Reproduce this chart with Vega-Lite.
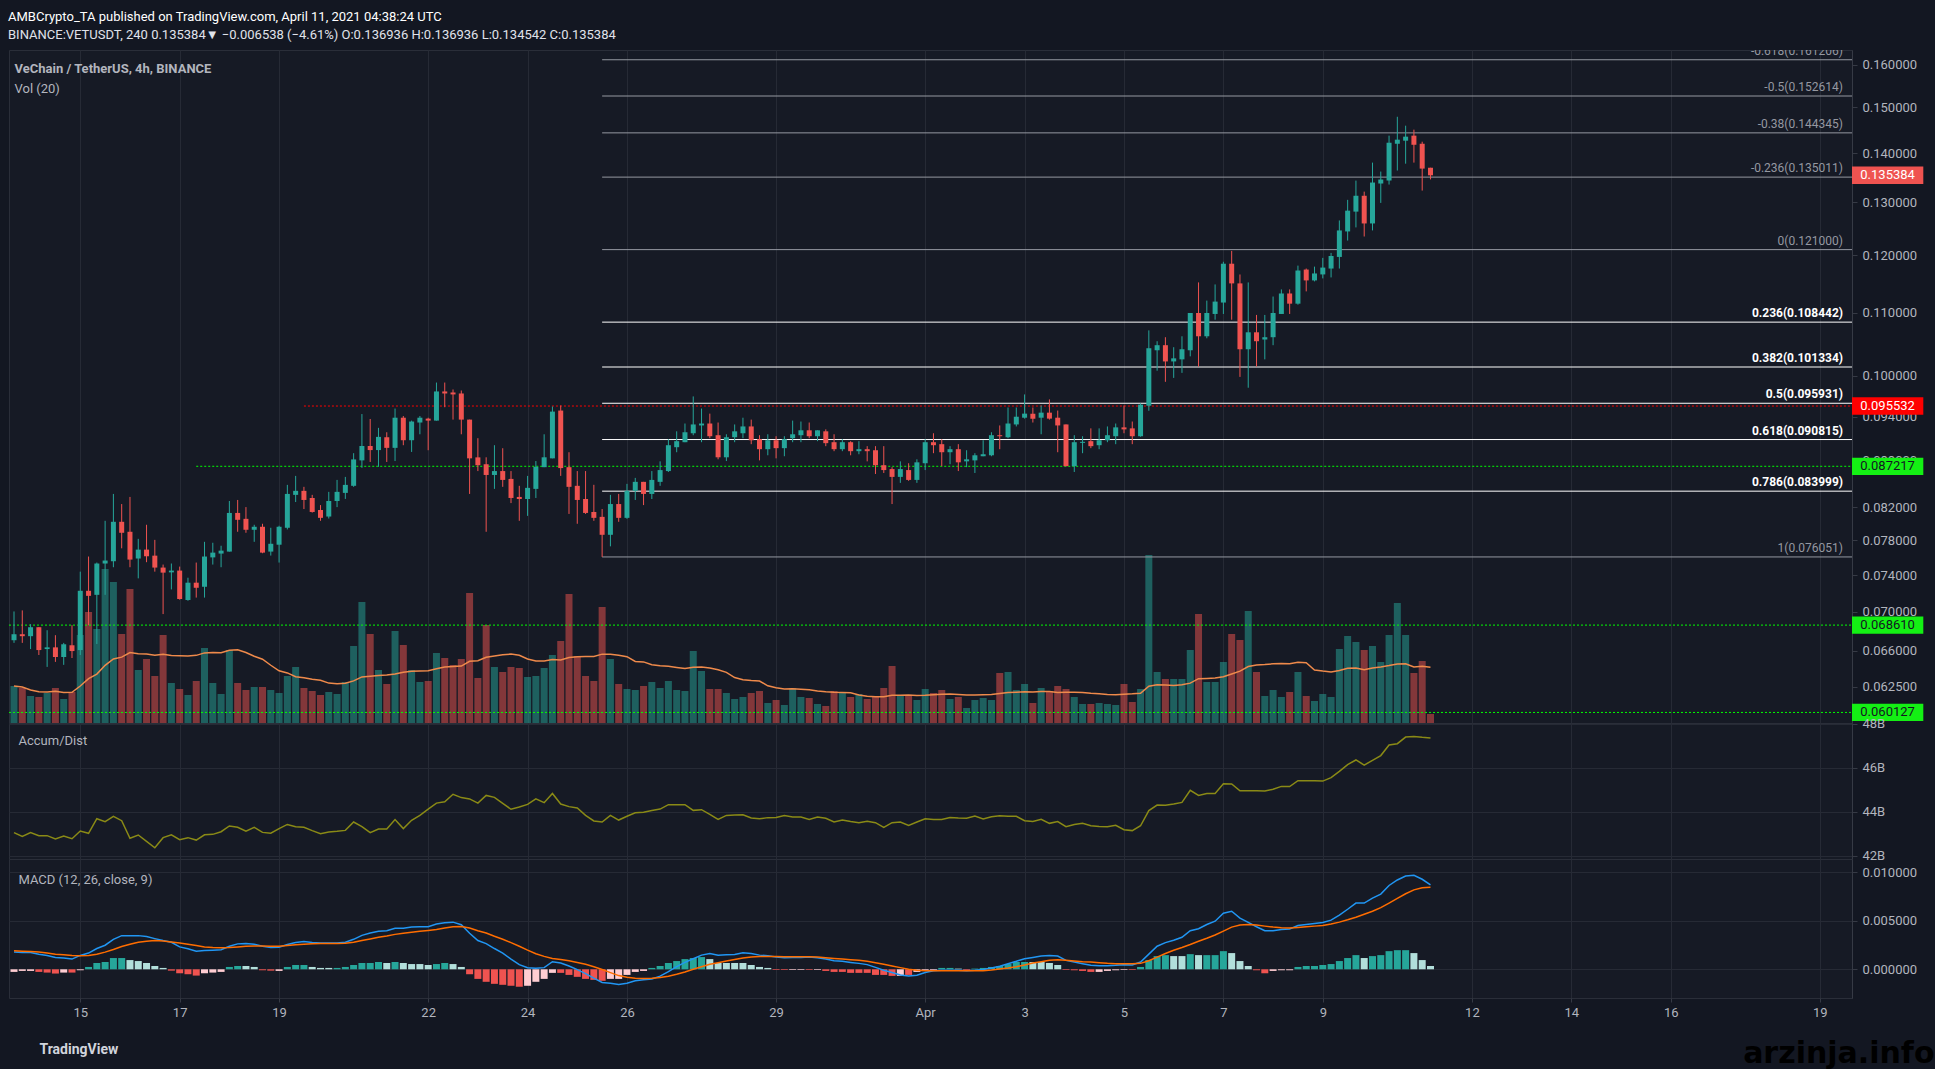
{
  "$schema": "https://vega.github.io/schema/vega-lite/v6.json",
  "background": "#131722",
  "padding": {"left": 8, "top": 10, "right": 0, "bottom": 0},
  "bounds": "flush",
  "spacing": 0,
  "title": {
    "text": "AMBCrypto_TA published on TradingView.com, April 11, 2021 04:38:24 UTC",
    "subtitle": "BINANCE:VETUSDT, 240  0.135384▼ −0.006538 (−4.61%)  O:0.136936  H:0.136936  L:0.134542  C:0.135384",
    "anchor": "start",
    "font": "Liberation Sans Narrow, Roboto",
    "fontSize": 13,
    "fontWeight": "normal",
    "color": "#ffffff",
    "subtitleFont": "Liberation Sans Narrow, Roboto",
    "subtitleFontSize": 13,
    "subtitleColor": "#e0e3eb",
    "subtitlePadding": 5,
    "offset": 8
  },
  "datasets": {
    "candles": [
      {"t":"2021-03-13T16:00Z","o":0.06706,"h":0.07004,"l":0.06679,"c":0.06767,"v":37,"ad":43.05,"m":0.00177,"s":0.0019,"hv":-0.00027,"hd":"rise"},
      {"t":"2021-03-13T20:00Z","o":0.06767,"h":0.07015,"l":0.06679,"c":0.06747,"v":35,"ad":42.88,"m":0.00173,"s":0.00187,"hv":-0.00017,"hd":"rise"},
      {"t":"2021-03-14T00:00Z","o":0.06747,"h":0.0687,"l":0.06617,"c":0.06839,"v":27,"ad":43.05,"m":0.00173,"s":0.00184,"hv":-0.00017,"hd":"rise"},
      {"t":"2021-03-14T04:00Z","o":0.06839,"h":0.0684,"l":0.06558,"c":0.06607,"v":26,"ad":42.91,"m":0.00156,"s":0.00177,"hv":-0.00027,"hd":"fall"},
      {"t":"2021-03-14T08:00Z","o":0.06617,"h":0.06808,"l":0.06441,"c":0.06634,"v":30,"ad":42.91,"m":0.00143,"s":0.00167,"hv":-0.00034,"hd":"fall"},
      {"t":"2021-03-14T12:00Z","o":0.06634,"h":0.06757,"l":0.0649,"c":0.06538,"v":35,"ad":42.76,"m":0.00122,"s":0.00156,"hv":-0.00044,"hd":"fall"},
      {"t":"2021-03-14T16:00Z","o":0.06538,"h":0.06679,"l":0.06461,"c":0.06665,"v":24,"ad":42.89,"m":0.00116,"s":0.0015,"hv":-0.00034,"hd":"rise"},
      {"t":"2021-03-14T20:00Z","o":0.06655,"h":0.0686,"l":0.06528,"c":0.06597,"v":31,"ad":42.77,"m":0.00105,"s":0.00143,"hv":-0.00034,"hd":"fall"},
      {"t":"2021-03-15T00:00Z","o":0.06607,"h":0.07438,"l":0.06558,"c":0.07226,"v":88,"ad":43.12,"m":0.00143,"s":0.00139,"hv":-0.0001,"hd":"rise"},
      {"t":"2021-03-15T04:00Z","o":0.07226,"h":0.0761,"l":0.0686,"c":0.07171,"v":111,"ad":43.02,"m":0.00167,"s":0.00143,"hv":0.00024,"hd":"rise"},
      {"t":"2021-03-15T08:00Z","o":0.07182,"h":0.07541,"l":0.06668,"c":0.0753,"v":94,"ad":43.68,"m":0.00214,"s":0.00156,"hv":0.00065,"hd":"rise"},
      {"t":"2021-03-15T12:00Z","o":0.0753,"h":0.08032,"l":0.07182,"c":0.07564,"v":154,"ad":43.55,"m":0.00248,"s":0.00177,"hv":0.00075,"hd":"rise"},
      {"t":"2021-03-15T16:00Z","o":0.07556,"h":0.08365,"l":0.07488,"c":0.0802,"v":141,"ad":43.79,"m":0.00309,"s":0.00204,"hv":0.00116,"hd":"rise"},
      {"t":"2021-03-15T20:00Z","o":0.0802,"h":0.08238,"l":0.07705,"c":0.07888,"v":89,"ad":43.59,"m":0.00347,"s":0.00235,"hv":0.00116,"hd":"rise"},
      {"t":"2021-03-16T00:00Z","o":0.079,"h":0.08327,"l":0.07488,"c":0.07575,"v":134,"ad":42.79,"m":0.00347,"s":0.00258,"hv":0.00095,"hd":"fall"},
      {"t":"2021-03-16T04:00Z","o":0.07587,"h":0.07816,"l":0.07363,"c":0.0769,"v":53,"ad":42.94,"m":0.00347,"s":0.00279,"hv":0.00085,"hd":"fall"},
      {"t":"2021-03-16T08:00Z","o":0.0769,"h":0.07984,"l":0.07545,"c":0.07613,"v":64,"ad":42.65,"m":0.00337,"s":0.00289,"hv":0.00065,"hd":"fall"},
      {"t":"2021-03-16T12:00Z","o":0.0762,"h":0.07804,"l":0.07438,"c":0.07484,"v":47,"ad":42.36,"m":0.00316,"s":0.00296,"hv":0.00034,"hd":"fall"},
      {"t":"2021-03-16T16:00Z","o":0.07484,"h":0.07518,"l":0.06976,"c":0.07427,"v":88,"ad":42.82,"m":0.00296,"s":0.00292,"hv":0.00014,"hd":"fall"},
      {"t":"2021-03-16T20:00Z","o":0.0743,"h":0.0753,"l":0.07241,"c":0.0745,"v":40,"ad":42.95,"m":0.00279,"s":0.00282,"hv":-0.00014,"hd":"fall"},
      {"t":"2021-03-17T00:00Z","o":0.0745,"h":0.07495,"l":0.0713,"c":0.07137,"v":34,"ad":42.73,"m":0.00231,"s":0.00272,"hv":-0.00041,"hd":"fall"},
      {"t":"2021-03-17T04:00Z","o":0.07126,"h":0.0737,"l":0.07118,"c":0.07315,"v":28,"ad":42.82,"m":0.00211,"s":0.00258,"hv":-0.00051,"hd":"fall"},
      {"t":"2021-03-17T08:00Z","o":0.07315,"h":0.07541,"l":0.07152,"c":0.07259,"v":42,"ad":42.71,"m":0.00187,"s":0.00245,"hv":-0.00065,"hd":"fall"},
      {"t":"2021-03-17T12:00Z","o":0.0727,"h":0.07781,"l":0.07152,"c":0.0761,"v":75,"ad":42.95,"m":0.00194,"s":0.00231,"hv":-0.00041,"hd":"rise"},
      {"t":"2021-03-17T16:00Z","o":0.076,"h":0.0777,"l":0.07518,"c":0.07655,"v":40,"ad":42.97,"m":0.00197,"s":0.00224,"hv":-0.00034,"hd":"rise"},
      {"t":"2021-03-17T20:00Z","o":0.07644,"h":0.07735,"l":0.07488,"c":0.07678,"v":29,"ad":43.09,"m":0.00201,"s":0.00221,"hv":-0.00027,"hd":"rise"},
      {"t":"2021-03-18T00:00Z","o":0.07667,"h":0.08276,"l":0.07667,"c":0.08128,"v":73,"ad":43.35,"m":0.00238,"s":0.00224,"hv":0.00024,"hd":"rise"},
      {"t":"2021-03-18T04:00Z","o":0.08128,"h":0.08289,"l":0.079,"c":0.08044,"v":40,"ad":43.29,"m":0.00262,"s":0.00231,"hv":0.00034,"hd":"rise"},
      {"t":"2021-03-18T08:00Z","o":0.08056,"h":0.082,"l":0.07888,"c":0.07924,"v":33,"ad":43.11,"m":0.00265,"s":0.00238,"hv":0.00034,"hd":"fall"},
      {"t":"2021-03-18T12:00Z","o":0.07924,"h":0.07984,"l":0.07781,"c":0.0796,"v":36,"ad":43.29,"m":0.00258,"s":0.00241,"hv":0.00024,"hd":"fall"},
      {"t":"2021-03-18T16:00Z","o":0.0796,"h":0.07996,"l":0.07648,"c":0.07655,"v":36,"ad":43.06,"m":0.00238,"s":0.00241,"hv":-0.0001,"hd":"fall"},
      {"t":"2021-03-18T20:00Z","o":0.07667,"h":0.07948,"l":0.07621,"c":0.07758,"v":33,"ad":43.02,"m":0.00224,"s":0.00238,"hv":-0.00014,"hd":"fall"},
      {"t":"2021-03-19T00:00Z","o":0.07747,"h":0.07972,"l":0.07541,"c":0.0796,"v":30,"ad":43.23,"m":0.00228,"s":0.00238,"hv":-0.00017,"hd":"rise"},
      {"t":"2021-03-19T04:00Z","o":0.07948,"h":0.0848,"l":0.07928,"c":0.08365,"v":47,"ad":43.42,"m":0.00255,"s":0.00245,"hv":0.00024,"hd":"rise"},
      {"t":"2021-03-19T08:00Z","o":0.08353,"h":0.08596,"l":0.08263,"c":0.08404,"v":56,"ad":43.32,"m":0.00275,"s":0.00252,"hv":0.00044,"hd":"rise"},
      {"t":"2021-03-19T12:00Z","o":0.08404,"h":0.08455,"l":0.08176,"c":0.08289,"v":35,"ad":43.29,"m":0.00286,"s":0.00258,"hv":0.00044,"hd":"rise"},
      {"t":"2021-03-19T16:00Z","o":0.08314,"h":0.08353,"l":0.08132,"c":0.0814,"v":32,"ad":43.14,"m":0.00275,"s":0.00262,"hv":0.00024,"hd":"fall"},
      {"t":"2021-03-19T20:00Z","o":0.08164,"h":0.08225,"l":0.08032,"c":0.08068,"v":28,"ad":43.0,"m":0.00272,"s":0.00265,"hv":0.00014,"hd":"fall"},
      {"t":"2021-03-20T00:00Z","o":0.08084,"h":0.08391,"l":0.0806,"c":0.08276,"v":31,"ad":43.08,"m":0.00272,"s":0.00265,"hv":0.00014,"hd":"fall"},
      {"t":"2021-03-20T04:00Z","o":0.08276,"h":0.08544,"l":0.082,"c":0.08391,"v":29,"ad":43.11,"m":0.00272,"s":0.00265,"hv":0.00014,"hd":"rise"},
      {"t":"2021-03-20T08:00Z","o":0.08378,"h":0.08583,"l":0.08302,"c":0.0848,"v":41,"ad":43.15,"m":0.00279,"s":0.00269,"hv":0.00024,"hd":"rise"},
      {"t":"2021-03-20T12:00Z","o":0.08468,"h":0.08896,"l":0.08455,"c":0.08813,"v":77,"ad":43.53,"m":0.00309,"s":0.00279,"hv":0.00044,"hd":"rise"},
      {"t":"2021-03-20T16:00Z","o":0.088,"h":0.09438,"l":0.08702,"c":0.08993,"v":121,"ad":43.32,"m":0.0035,"s":0.00296,"hv":0.00065,"hd":"rise"},
      {"t":"2021-03-20T20:00Z","o":0.08993,"h":0.09368,"l":0.08779,"c":0.08938,"v":89,"ad":43.05,"m":0.00374,"s":0.00313,"hv":0.00065,"hd":"rise"},
      {"t":"2021-03-21T00:00Z","o":0.08938,"h":0.09243,"l":0.08715,"c":0.09118,"v":53,"ad":43.21,"m":0.00391,"s":0.0033,"hv":0.00075,"hd":"rise"},
      {"t":"2021-03-21T04:00Z","o":0.09113,"h":0.09182,"l":0.08779,"c":0.08968,"v":39,"ad":43.21,"m":0.00398,"s":0.00343,"hv":0.00065,"hd":"fall"},
      {"t":"2021-03-21T08:00Z","o":0.08968,"h":0.09517,"l":0.08791,"c":0.09386,"v":92,"ad":43.64,"m":0.00422,"s":0.0036,"hv":0.00075,"hd":"rise"},
      {"t":"2021-03-21T12:00Z","o":0.09386,"h":0.0941,"l":0.09004,"c":0.09072,"v":78,"ad":43.23,"m":0.00422,"s":0.00371,"hv":0.00065,"hd":"fall"},
      {"t":"2021-03-21T16:00Z","o":0.09072,"h":0.09345,"l":0.08913,"c":0.09332,"v":53,"ad":43.61,"m":0.00435,"s":0.00381,"hv":0.00054,"hd":"fall"},
      {"t":"2021-03-21T20:00Z","o":0.09318,"h":0.0941,"l":0.09154,"c":0.09386,"v":41,"ad":43.83,"m":0.00439,"s":0.00391,"hv":0.00054,"hd":"fall"},
      {"t":"2021-03-22T00:00Z","o":0.09373,"h":0.09386,"l":0.08936,"c":0.09345,"v":42,"ad":44.12,"m":0.00439,"s":0.00401,"hv":0.00044,"hd":"fall"},
      {"t":"2021-03-22T04:00Z","o":0.09345,"h":0.09898,"l":0.09345,"c":0.09766,"v":70,"ad":44.39,"m":0.00466,"s":0.00411,"hv":0.00054,"hd":"rise"},
      {"t":"2021-03-22T08:00Z","o":0.09766,"h":0.09898,"l":0.09536,"c":0.09736,"v":65,"ad":44.45,"m":0.00479,"s":0.00425,"hv":0.00065,"hd":"rise"},
      {"t":"2021-03-22T12:00Z","o":0.09751,"h":0.09795,"l":0.09359,"c":0.09722,"v":58,"ad":44.79,"m":0.00486,"s":0.00439,"hv":0.00054,"hd":"fall"},
      {"t":"2021-03-22T16:00Z","o":0.09736,"h":0.0978,"l":0.09154,"c":0.09359,"v":64,"ad":44.64,"m":0.00459,"s":0.00442,"hv":0.00024,"hd":"fall"},
      {"t":"2021-03-22T20:00Z","o":0.09359,"h":0.09359,"l":0.08365,"c":0.08827,"v":130,"ad":44.58,"m":0.00371,"s":0.00425,"hv":-0.00051,"hd":"fall"},
      {"t":"2021-03-23T00:00Z","o":0.0884,"h":0.091,"l":0.08659,"c":0.08736,"v":45,"ad":44.39,"m":0.00296,"s":0.00398,"hv":-0.00099,"hd":"fall"},
      {"t":"2021-03-23T04:00Z","o":0.08749,"h":0.08841,"l":0.079,"c":0.08608,"v":98,"ad":44.74,"m":0.00265,"s":0.00374,"hv":-0.00129,"hd":"fall"},
      {"t":"2021-03-23T08:00Z","o":0.08608,"h":0.09004,"l":0.08429,"c":0.08659,"v":56,"ad":44.65,"m":0.00214,"s":0.0034,"hv":-0.0015,"hd":"fall"},
      {"t":"2021-03-23T12:00Z","o":0.08659,"h":0.08963,"l":0.08455,"c":0.08544,"v":51,"ad":44.38,"m":0.00167,"s":0.00309,"hv":-0.0016,"hd":"fall"},
      {"t":"2021-03-23T16:00Z","o":0.08557,"h":0.08659,"l":0.0825,"c":0.08314,"v":56,"ad":44.11,"m":0.00105,"s":0.00275,"hv":-0.0017,"hd":"fall"},
      {"t":"2021-03-23T20:00Z","o":0.08327,"h":0.08468,"l":0.08032,"c":0.08301,"v":55,"ad":44.21,"m":0.00048,"s":0.00238,"hv":-0.0018,"hd":"fall"},
      {"t":"2021-03-24T00:00Z","o":0.08301,"h":0.08596,"l":0.08092,"c":0.08442,"v":46,"ad":44.33,"m":0.00017,"s":0.00197,"hv":-0.0017,"hd":"rise"},
      {"t":"2021-03-24T04:00Z","o":0.08429,"h":0.08791,"l":0.08314,"c":0.08715,"v":47,"ad":44.58,"m":0.0001,"s":0.0016,"hv":-0.00129,"hd":"rise"},
      {"t":"2021-03-24T08:00Z","o":0.0871,"h":0.09154,"l":0.0871,"c":0.08841,"v":55,"ad":44.41,"m":0.00017,"s":0.00133,"hv":-0.00099,"hd":"rise"},
      {"t":"2021-03-24T12:00Z","o":0.08827,"h":0.09546,"l":0.08827,"c":0.09473,"v":68,"ad":44.83,"m":0.00078,"s":0.00112,"hv":-0.00037,"hd":"rise"},
      {"t":"2021-03-24T16:00Z","o":0.09488,"h":0.09561,"l":0.08596,"c":0.08698,"v":82,"ad":44.35,"m":0.00065,"s":0.00102,"hv":-0.00037,"hd":"fall"},
      {"t":"2021-03-24T20:00Z","o":0.0871,"h":0.08909,"l":0.08116,"c":0.08455,"v":129,"ad":44.23,"m":0.00034,"s":0.00088,"hv":-0.00058,"hd":"fall"},
      {"t":"2021-03-25T00:00Z","o":0.08468,"h":0.08659,"l":0.07996,"c":0.08289,"v":67,"ad":44.17,"m":-0.00003,"s":0.00071,"hv":-0.00078,"hd":"fall"},
      {"t":"2021-03-25T04:00Z","o":0.08301,"h":0.08659,"l":0.08116,"c":0.08128,"v":47,"ad":43.83,"m":-0.00044,"s":0.00051,"hv":-0.00099,"hd":"fall"},
      {"t":"2021-03-25T08:00Z","o":0.0814,"h":0.08481,"l":0.08032,"c":0.08068,"v":42,"ad":43.58,"m":-0.00092,"s":0.00027,"hv":-0.00109,"hd":"fall"},
      {"t":"2021-03-25T12:00Z","o":0.0808,"h":0.08176,"l":0.07605,"c":0.07864,"v":116,"ad":43.53,"m":-0.00136,"s":-0.00003,"hv":-0.00119,"hd":"fall"},
      {"t":"2021-03-25T16:00Z","o":0.07864,"h":0.08353,"l":0.07728,"c":0.08238,"v":64,"ad":43.83,"m":-0.00143,"s":-0.00034,"hv":-0.00099,"hd":"rise"},
      {"t":"2021-03-25T20:00Z","o":0.08238,"h":0.08365,"l":0.0802,"c":0.08068,"v":39,"ad":43.62,"m":-0.00156,"s":-0.00065,"hv":-0.00099,"hd":"rise"},
      {"t":"2021-03-26T00:00Z","o":0.08068,"h":0.08493,"l":0.08056,"c":0.08404,"v":34,"ad":43.79,"m":-0.00143,"s":-0.00082,"hv":-0.00058,"hd":"rise"},
      {"t":"2021-03-26T04:00Z","o":0.08404,"h":0.0857,"l":0.08289,"c":0.08519,"v":33,"ad":43.95,"m":-0.00119,"s":-0.00092,"hv":-0.00027,"hd":"rise"},
      {"t":"2021-03-26T08:00Z","o":0.08519,"h":0.08519,"l":0.08225,"c":0.08365,"v":37,"ad":43.97,"m":-0.00109,"s":-0.00095,"hv":-0.00017,"hd":"rise"},
      {"t":"2021-03-26T12:00Z","o":0.08365,"h":0.08659,"l":0.08301,"c":0.08544,"v":41,"ad":44.05,"m":-0.00099,"s":-0.00092,"hv":0.00014,"hd":"rise"},
      {"t":"2021-03-26T16:00Z","o":0.08519,"h":0.08787,"l":0.08468,"c":0.08672,"v":35,"ad":44.12,"m":-0.00071,"s":-0.00085,"hv":0.00034,"hd":"rise"},
      {"t":"2021-03-26T20:00Z","o":0.08659,"h":0.09086,"l":0.08647,"c":0.09004,"v":42,"ad":44.32,"m":-0.00024,"s":-0.00071,"hv":0.00065,"hd":"rise"},
      {"t":"2021-03-27T00:00Z","o":0.08977,"h":0.09195,"l":0.08909,"c":0.09059,"v":33,"ad":44.32,"m":0.00027,"s":-0.00051,"hv":0.00085,"hd":"rise"},
      {"t":"2021-03-27T04:00Z","o":0.09045,"h":0.09304,"l":0.09045,"c":0.09182,"v":32,"ad":44.32,"m":0.00071,"s":-0.00027,"hv":0.00105,"hd":"rise"},
      {"t":"2021-03-27T08:00Z","o":0.09168,"h":0.09693,"l":0.09141,"c":0.09291,"v":72,"ad":44.06,"m":0.00109,"s":0.0,"hv":0.00116,"hd":"rise"},
      {"t":"2021-03-27T12:00Z","o":0.09277,"h":0.09517,"l":0.09045,"c":0.09304,"v":52,"ad":44.09,"m":0.00146,"s":0.00027,"hv":0.00126,"hd":"rise"},
      {"t":"2021-03-27T16:00Z","o":0.09304,"h":0.09444,"l":0.091,"c":0.09127,"v":34,"ad":43.88,"m":0.00163,"s":0.00051,"hv":0.00105,"hd":"fall"},
      {"t":"2021-03-27T20:00Z","o":0.09141,"h":0.09318,"l":0.08814,"c":0.08841,"v":34,"ad":43.65,"m":0.00146,"s":0.00068,"hv":0.00065,"hd":"fall"},
      {"t":"2021-03-28T00:00Z","o":0.08841,"h":0.09154,"l":0.08791,"c":0.09113,"v":30,"ad":43.83,"m":0.0015,"s":0.00085,"hv":0.00065,"hd":"fall"},
      {"t":"2021-03-28T04:00Z","o":0.09113,"h":0.09291,"l":0.09045,"c":0.09195,"v":24,"ad":43.85,"m":0.00153,"s":0.00102,"hv":0.00065,"hd":"fall"},
      {"t":"2021-03-28T08:00Z","o":0.09168,"h":0.09386,"l":0.091,"c":0.09263,"v":26,"ad":43.86,"m":0.0017,"s":0.00116,"hv":0.00065,"hd":"fall"},
      {"t":"2021-03-28T12:00Z","o":0.09263,"h":0.09359,"l":0.09018,"c":0.09072,"v":30,"ad":43.71,"m":0.00163,"s":0.00126,"hv":0.00044,"hd":"fall"},
      {"t":"2021-03-28T16:00Z","o":0.09086,"h":0.09141,"l":0.088,"c":0.0895,"v":32,"ad":43.68,"m":0.00146,"s":0.00133,"hv":0.00024,"hd":"fall"},
      {"t":"2021-03-28T20:00Z","o":0.0895,"h":0.09154,"l":0.08868,"c":0.09072,"v":20,"ad":43.73,"m":0.00139,"s":0.00133,"hv":0.00014,"hd":"fall"},
      {"t":"2021-03-29T00:00Z","o":0.09072,"h":0.09127,"l":0.08827,"c":0.08964,"v":23,"ad":43.74,"m":0.00126,"s":0.00133,"hv":-0.00007,"hd":"fall"},
      {"t":"2021-03-29T04:00Z","o":0.08964,"h":0.09127,"l":0.08855,"c":0.09086,"v":18,"ad":43.83,"m":0.00119,"s":0.00129,"hv":-0.00007,"hd":"fall"},
      {"t":"2021-03-29T08:00Z","o":0.091,"h":0.09345,"l":0.09045,"c":0.09154,"v":35,"ad":43.76,"m":0.00122,"s":0.00129,"hv":-0.00007,"hd":"rise"},
      {"t":"2021-03-29T12:00Z","o":0.09141,"h":0.09332,"l":0.09045,"c":0.09209,"v":26,"ad":43.76,"m":0.00122,"s":0.00129,"hv":-0.00007,"hd":"rise"},
      {"t":"2021-03-29T16:00Z","o":0.09209,"h":0.09318,"l":0.091,"c":0.09127,"v":25,"ad":43.65,"m":0.00126,"s":0.00129,"hv":-0.00007,"hd":"fall"},
      {"t":"2021-03-29T20:00Z","o":0.09127,"h":0.09209,"l":0.09059,"c":0.09209,"v":19,"ad":43.76,"m":0.00119,"s":0.00126,"hv":-0.00007,"hd":"rise"},
      {"t":"2021-03-30T00:00Z","o":0.09195,"h":0.09222,"l":0.08991,"c":0.09032,"v":17,"ad":43.70,"m":0.00105,"s":0.00119,"hv":-0.00017,"hd":"fall"},
      {"t":"2021-03-30T04:00Z","o":0.09045,"h":0.09154,"l":0.08923,"c":0.0895,"v":32,"ad":43.53,"m":0.00088,"s":0.00112,"hv":-0.00027,"hd":"fall"},
      {"t":"2021-03-30T08:00Z","o":0.0895,"h":0.09086,"l":0.08923,"c":0.09045,"v":30,"ad":43.62,"m":0.00082,"s":0.00105,"hv":-0.00027,"hd":"fall"},
      {"t":"2021-03-30T12:00Z","o":0.09045,"h":0.09059,"l":0.08868,"c":0.08923,"v":26,"ad":43.55,"m":0.00071,"s":0.00099,"hv":-0.00037,"hd":"fall"},
      {"t":"2021-03-30T16:00Z","o":0.08923,"h":0.09059,"l":0.08882,"c":0.0895,"v":29,"ad":43.5,"m":0.00061,"s":0.00092,"hv":-0.00037,"hd":"fall"},
      {"t":"2021-03-30T20:00Z","o":0.0895,"h":0.08991,"l":0.08787,"c":0.08923,"v":24,"ad":43.56,"m":0.00048,"s":0.00082,"hv":-0.00037,"hd":"fall"},
      {"t":"2021-03-31T00:00Z","o":0.08936,"h":0.08991,"l":0.08621,"c":0.08736,"v":26,"ad":43.5,"m":0.0002,"s":0.00068,"hv":-0.00058,"hd":"fall"},
      {"t":"2021-03-31T04:00Z","o":0.08736,"h":0.08991,"l":0.08634,"c":0.08672,"v":35,"ad":43.29,"m":-0.0001,"s":0.00051,"hv":-0.00058,"hd":"fall"},
      {"t":"2021-03-31T08:00Z","o":0.08685,"h":0.0871,"l":0.08238,"c":0.08583,"v":57,"ad":43.5,"m":-0.00034,"s":0.00034,"hv":-0.00068,"hd":"fall"},
      {"t":"2021-03-31T12:00Z","o":0.08583,"h":0.08787,"l":0.08506,"c":0.08685,"v":27,"ad":43.53,"m":-0.00058,"s":0.00017,"hv":-0.00068,"hd":"rise"},
      {"t":"2021-03-31T16:00Z","o":0.08672,"h":0.08762,"l":0.08532,"c":0.08544,"v":28,"ad":43.38,"m":-0.00068,"s":0.0,"hv":-0.00058,"hd":"fall"},
      {"t":"2021-03-31T20:00Z","o":0.08544,"h":0.08814,"l":0.08506,"c":0.08774,"v":23,"ad":43.53,"m":-0.00061,"s":-0.0001,"hv":-0.00027,"hd":"rise"},
      {"t":"2021-04-01T00:00Z","o":0.08762,"h":0.09086,"l":0.08672,"c":0.09045,"v":34,"ad":43.68,"m":-0.00034,"s":-0.00014,"hv":-0.0001,"hd":"rise"},
      {"t":"2021-04-01T04:00Z","o":0.09045,"h":0.09168,"l":0.08896,"c":0.09004,"v":30,"ad":43.65,"m":-0.00014,"s":-0.00014,"hv":-0.0001,"hd":"rise"},
      {"t":"2021-04-01T08:00Z","o":0.09018,"h":0.09086,"l":0.08723,"c":0.08909,"v":33,"ad":43.65,"m":-0.0001,"s":-0.00014,"hv":0.00014,"hd":"rise"},
      {"t":"2021-04-01T12:00Z","o":0.08909,"h":0.08991,"l":0.08749,"c":0.0895,"v":24,"ad":43.74,"m":-0.0001,"s":-0.00014,"hv":0.00014,"hd":"rise"},
      {"t":"2021-04-01T16:00Z","o":0.0895,"h":0.09018,"l":0.08659,"c":0.08774,"v":26,"ad":43.71,"m":-0.0001,"s":-0.00014,"hv":0.00007,"hd":"fall"},
      {"t":"2021-04-01T20:00Z","o":0.08787,"h":0.08936,"l":0.0871,"c":0.08814,"v":15,"ad":43.70,"m":-0.00014,"s":-0.00014,"hv":-0.0001,"hd":"fall"},
      {"t":"2021-04-02T00:00Z","o":0.088,"h":0.08896,"l":0.08634,"c":0.08868,"v":23,"ad":43.80,"m":-0.0001,"s":-0.00014,"hv":0.00007,"hd":"rise"},
      {"t":"2021-04-02T04:00Z","o":0.08855,"h":0.09072,"l":0.08855,"c":0.08882,"v":25,"ad":43.67,"m":-0.00003,"s":-0.00014,"hv":0.00014,"hd":"rise"},
      {"t":"2021-04-02T08:00Z","o":0.08868,"h":0.09182,"l":0.08855,"c":0.09141,"v":23,"ad":43.77,"m":0.00014,"s":-0.00007,"hv":0.00024,"hd":"rise"},
      {"t":"2021-04-02T12:00Z","o":0.09141,"h":0.09277,"l":0.0895,"c":0.09127,"v":50,"ad":43.82,"m":0.00031,"s":0.00003,"hv":0.00034,"hd":"rise"},
      {"t":"2021-04-02T16:00Z","o":0.09113,"h":0.09532,"l":0.091,"c":0.09304,"v":51,"ad":43.79,"m":0.00058,"s":0.00014,"hv":0.00054,"hd":"rise"},
      {"t":"2021-04-02T20:00Z","o":0.09291,"h":0.09532,"l":0.09263,"c":0.094,"v":33,"ad":43.79,"m":0.00082,"s":0.00027,"hv":0.00075,"hd":"rise"},
      {"t":"2021-04-03T00:00Z","o":0.09386,"h":0.09722,"l":0.09373,"c":0.09444,"v":39,"ad":43.59,"m":0.00109,"s":0.00044,"hv":0.00075,"hd":"rise"},
      {"t":"2021-04-03T04:00Z","o":0.09444,"h":0.09532,"l":0.09318,"c":0.09373,"v":20,"ad":43.55,"m":0.00122,"s":0.00065,"hv":0.00075,"hd":"fall"},
      {"t":"2021-04-03T08:00Z","o":0.09386,"h":0.09561,"l":0.09154,"c":0.09458,"v":35,"ad":43.65,"m":0.00136,"s":0.00078,"hv":0.00075,"hd":"fall"},
      {"t":"2021-04-03T12:00Z","o":0.09458,"h":0.09649,"l":0.09359,"c":0.09373,"v":32,"ad":43.47,"m":0.00143,"s":0.00092,"hv":0.00065,"hd":"fall"},
      {"t":"2021-04-03T16:00Z","o":0.09386,"h":0.09488,"l":0.08909,"c":0.09277,"v":37,"ad":43.55,"m":0.00136,"s":0.00099,"hv":0.00044,"hd":"fall"},
      {"t":"2021-04-03T20:00Z","o":0.09291,"h":0.09291,"l":0.08723,"c":0.08723,"v":34,"ad":43.32,"m":0.00092,"s":0.00092,"hv":-0.00007,"hd":"fall"},
      {"t":"2021-04-04T00:00Z","o":0.08723,"h":0.09141,"l":0.08647,"c":0.09045,"v":26,"ad":43.42,"m":0.00075,"s":0.00085,"hv":-0.0001,"hd":"fall"},
      {"t":"2021-04-04T04:00Z","o":0.09036,"h":0.09127,"l":0.08896,"c":0.0905,"v":19,"ad":43.47,"m":0.00058,"s":0.00078,"hv":-0.00017,"hd":"fall"},
      {"t":"2021-04-04T08:00Z","o":0.09059,"h":0.09236,"l":0.08964,"c":0.08991,"v":19,"ad":43.36,"m":0.00041,"s":0.00075,"hv":-0.00027,"hd":"fall"},
      {"t":"2021-04-04T12:00Z","o":0.09004,"h":0.09236,"l":0.0895,"c":0.09072,"v":20,"ad":43.33,"m":0.00037,"s":0.00068,"hv":-0.00027,"hd":"rise"},
      {"t":"2021-04-04T16:00Z","o":0.09072,"h":0.09263,"l":0.09045,"c":0.09141,"v":19,"ad":43.32,"m":0.00037,"s":0.00061,"hv":-0.00017,"hd":"rise"},
      {"t":"2021-04-04T20:00Z","o":0.09127,"h":0.09304,"l":0.09018,"c":0.0925,"v":18,"ad":43.38,"m":0.00041,"s":0.00058,"hv":-0.0001,"hd":"rise"},
      {"t":"2021-04-05T00:00Z","o":0.0925,"h":0.09561,"l":0.09168,"c":0.09222,"v":39,"ad":43.18,"m":0.00048,"s":0.00058,"hv":-0.00007,"hd":"rise"},
      {"t":"2021-04-05T04:00Z","o":0.09236,"h":0.09332,"l":0.09018,"c":0.09127,"v":21,"ad":43.14,"m":0.00044,"s":0.00058,"hv":-0.00007,"hd":"fall"},
      {"t":"2021-04-05T08:00Z","o":0.09127,"h":0.09592,"l":0.0912,"c":0.09573,"v":34,"ad":43.36,"m":0.00075,"s":0.00061,"hv":0.00024,"hd":"rise"},
      {"t":"2021-04-05T12:00Z","o":0.09558,"h":0.1071,"l":0.09485,"c":0.10425,"v":168,"ad":44.05,"m":0.00156,"s":0.00088,"hv":0.00095,"hd":"rise"},
      {"t":"2021-04-05T16:00Z","o":0.10393,"h":0.10536,"l":0.10077,"c":0.10473,"v":51,"ad":44.30,"m":0.00238,"s":0.00126,"hv":0.00136,"hd":"rise"},
      {"t":"2021-04-05T20:00Z","o":0.10473,"h":0.106,"l":0.09909,"c":0.10219,"v":44,"ad":44.29,"m":0.00275,"s":0.00163,"hv":0.00146,"hd":"rise"},
      {"t":"2021-04-06T00:00Z","o":0.10219,"h":0.10441,"l":0.09968,"c":0.10267,"v":44,"ad":44.35,"m":0.00299,"s":0.00197,"hv":0.00136,"hd":"fall"},
      {"t":"2021-04-06T04:00Z","o":0.10251,"h":0.10615,"l":0.10044,"c":0.10409,"v":44,"ad":44.42,"m":0.0033,"s":0.00224,"hv":0.00136,"hd":"fall"},
      {"t":"2021-04-06T08:00Z","o":0.10393,"h":0.10995,"l":0.10298,"c":0.10995,"v":73,"ad":44.97,"m":0.00398,"s":0.00255,"hv":0.00156,"hd":"rise"},
      {"t":"2021-04-06T12:00Z","o":0.10995,"h":0.11515,"l":0.1014,"c":0.10615,"v":109,"ad":44.74,"m":0.00418,"s":0.00289,"hv":0.00146,"hd":"fall"},
      {"t":"2021-04-06T16:00Z","o":0.10615,"h":0.11203,"l":0.10583,"c":0.10995,"v":41,"ad":44.83,"m":0.00462,"s":0.0032,"hv":0.00146,"hd":"rise"},
      {"t":"2021-04-06T20:00Z","o":0.10979,"h":0.1148,"l":0.10884,"c":0.11186,"v":41,"ad":44.83,"m":0.00496,"s":0.00354,"hv":0.00146,"hd":"rise"},
      {"t":"2021-04-07T00:00Z","o":0.1117,"h":0.1188,"l":0.10979,"c":0.11845,"v":61,"ad":45.27,"m":0.00578,"s":0.00394,"hv":0.00187,"hd":"rise"},
      {"t":"2021-04-07T04:00Z","o":0.11845,"h":0.12077,"l":0.10884,"c":0.11498,"v":89,"ad":45.26,"m":0.00598,"s":0.00435,"hv":0.00167,"hd":"fall"},
      {"t":"2021-04-07T08:00Z","o":0.11498,"h":0.11654,"l":0.09983,"c":0.10409,"v":83,"ad":44.95,"m":0.00527,"s":0.00456,"hv":0.00085,"hd":"fall"},
      {"t":"2021-04-07T12:00Z","o":0.10409,"h":0.11515,"l":0.09821,"c":0.10679,"v":112,"ad":44.95,"m":0.00483,"s":0.00462,"hv":0.00034,"hd":"fall"},
      {"t":"2021-04-07T16:00Z","o":0.10679,"h":0.10963,"l":0.1014,"c":0.10536,"v":51,"ad":44.95,"m":0.00439,"s":0.00456,"hv":-0.0001,"hd":"fall"},
      {"t":"2021-04-07T20:00Z","o":0.10563,"h":0.10963,"l":0.10251,"c":0.106,"v":27,"ad":44.94,"m":0.00398,"s":0.00445,"hv":-0.00041,"hd":"fall"},
      {"t":"2021-04-08T00:00Z","o":0.106,"h":0.11272,"l":0.10473,"c":0.10995,"v":33,"ad":45.02,"m":0.00398,"s":0.00435,"hv":-0.00017,"hd":"rise"},
      {"t":"2021-04-08T04:00Z","o":0.10979,"h":0.11394,"l":0.10979,"c":0.11324,"v":26,"ad":45.15,"m":0.00411,"s":0.00428,"hv":-0.0001,"hd":"rise"},
      {"t":"2021-04-08T08:00Z","o":0.11324,"h":0.11394,"l":0.10979,"c":0.11151,"v":31,"ad":45.14,"m":0.00415,"s":0.00425,"hv":-0.0001,"hd":"rise"},
      {"t":"2021-04-08T12:00Z","o":0.11151,"h":0.11811,"l":0.11134,"c":0.11724,"v":51,"ad":45.41,"m":0.00452,"s":0.00432,"hv":0.00024,"hd":"rise"},
      {"t":"2021-04-08T16:00Z","o":0.11741,"h":0.11759,"l":0.1136,"c":0.1155,"v":27,"ad":45.41,"m":0.00462,"s":0.00439,"hv":0.00034,"hd":"rise"},
      {"t":"2021-04-08T20:00Z","o":0.1155,"h":0.11793,"l":0.11533,"c":0.11672,"v":22,"ad":45.41,"m":0.00473,"s":0.00445,"hv":0.00034,"hd":"rise"},
      {"t":"2021-04-09T00:00Z","o":0.11655,"h":0.1195,"l":0.11585,"c":0.11776,"v":29,"ad":45.39,"m":0.00483,"s":0.00452,"hv":0.00044,"hd":"rise"},
      {"t":"2021-04-09T04:00Z","o":0.11759,"h":0.1204,"l":0.11602,"c":0.11984,"v":26,"ad":45.55,"m":0.00507,"s":0.00466,"hv":0.00054,"hd":"rise"},
      {"t":"2021-04-09T08:00Z","o":0.11967,"h":0.12645,"l":0.11759,"c":0.12456,"v":74,"ad":45.83,"m":0.00558,"s":0.00486,"hv":0.00085,"hd":"rise"},
      {"t":"2021-04-09T12:00Z","o":0.12437,"h":0.13045,"l":0.12267,"c":0.12834,"v":87,"ad":46.14,"m":0.00619,"s":0.0051,"hv":0.00116,"hd":"rise"},
      {"t":"2021-04-09T16:00Z","o":0.12815,"h":0.1343,"l":0.12513,"c":0.13126,"v":81,"ad":46.35,"m":0.00683,"s":0.00537,"hv":0.00146,"hd":"rise"},
      {"t":"2021-04-09T20:00Z","o":0.13126,"h":0.13208,"l":0.12342,"c":0.12588,"v":73,"ad":46.12,"m":0.00683,"s":0.00568,"hv":0.00116,"hd":"fall"},
      {"t":"2021-04-10T00:00Z","o":0.12588,"h":0.138,"l":0.12456,"c":0.13391,"v":77,"ad":46.33,"m":0.00734,"s":0.00598,"hv":0.00136,"hd":"rise"},
      {"t":"2021-04-10T04:00Z","o":0.13371,"h":0.13615,"l":0.12985,"c":0.13452,"v":61,"ad":46.55,"m":0.00775,"s":0.00636,"hv":0.00146,"hd":"rise"},
      {"t":"2021-04-10T08:00Z","o":0.13432,"h":0.14374,"l":0.1335,"c":0.14221,"v":88,"ad":47.03,"m":0.00864,"s":0.00683,"hv":0.00187,"hd":"rise"},
      {"t":"2021-04-10T12:00Z","o":0.14199,"h":0.1479,"l":0.13636,"c":0.14287,"v":120,"ad":47.09,"m":0.00921,"s":0.00731,"hv":0.00197,"hd":"rise"},
      {"t":"2021-04-10T16:00Z","o":0.14265,"h":0.14592,"l":0.13778,"c":0.14352,"v":88,"ad":47.39,"m":0.00962,"s":0.00779,"hv":0.00197,"hd":"rise"},
      {"t":"2021-04-10T20:00Z","o":0.14374,"h":0.14505,"l":0.138,"c":0.14177,"v":50,"ad":47.42,"m":0.00969,"s":0.00819,"hv":0.00167,"hd":"fall"},
      {"t":"2021-04-11T00:00Z","o":0.14199,"h":0.14243,"l":0.13229,"c":0.13676,"v":62,"ad":47.38,"m":0.00928,"s":0.0084,"hv":0.00095,"hd":"fall"},
      {"t":"2021-04-11T04:00Z","o":0.136936,"h":0.136936,"l":0.134542,"c":0.135384,"v":9,"ad":47.35,"m":0.0087,"s":0.00847,"hv":0.00034,"hd":"fall"}
    ],
    "levels": [
      {"p": 0.095532, "from": "2021-03-19T12:00Z", "kind": "res"},
      {"p": 0.087217, "from": "2021-03-17T08:00Z", "kind": "sup"},
      {"p": 0.06861, "from": "2021-03-13T13:35Z", "kind": "sup"},
      {"p": 0.060127, "from": "2021-03-13T13:35Z", "kind": "sup"}
    ],
    "fib": [
      {"p": 0.161206, "label": "-0.618(0.161206)", "major": false},
      {"p": 0.152614, "label": "-0.5(0.152614)", "major": false},
      {"p": 0.144345, "label": "-0.38(0.144345)", "major": false},
      {"p": 0.135011, "label": "-0.236(0.135011)", "major": false},
      {"p": 0.121, "label": "0(0.121000)", "major": false},
      {"p": 0.108442, "label": "0.236(0.108442)", "major": true},
      {"p": 0.101334, "label": "0.382(0.101334)", "major": true},
      {"p": 0.095931, "label": "0.5(0.095931)", "major": true},
      {"p": 0.090815, "label": "0.618(0.090815)", "major": true},
      {"p": 0.083999, "label": "0.786(0.083999)", "major": true},
      {"p": 0.076051, "label": "1(0.076051)", "major": false}
    ],
    "tags": [
      {"p": 0.135384, "kind": "last"},
      {"p": 0.095532, "kind": "res"},
      {"p": 0.087217, "kind": "sup"},
      {"p": 0.06861, "kind": "sup"},
      {"p": 0.060127, "kind": "sup"}
    ]
  },
  "data": {"name": "candles"},
  "vconcat": [
    {
      "width": 1843,
      "height": 673,
      "layer": [
        {
          "layer": [
            {
              "mark": {"type": "bar", "size": 7, "opacity": 0.5},
              "encoding": {
                "x": {
                  "field": "t", "type": "temporal",
                  "scale": {"padding": 0, "domain": [{"year":2021,"month":3,"date":13,"hours":13,"minutes":35,"utc":true},{"year":2021,"month":4,"date":19,"hours":15,"minutes":33,"utc":true}]},
                  "axis": {
                    "values": [{"year":2021,"month":3,"date":15,"utc":true},{"year":2021,"month":3,"date":17,"utc":true},{"year":2021,"month":3,"date":19,"utc":true},{"year":2021,"month":3,"date":22,"utc":true},{"year":2021,"month":3,"date":24,"utc":true},{"year":2021,"month":3,"date":26,"utc":true},{"year":2021,"month":3,"date":29,"utc":true},{"year":2021,"month":4,"date":1,"utc":true},{"year":2021,"month":4,"date":3,"utc":true},{"year":2021,"month":4,"date":5,"utc":true},{"year":2021,"month":4,"date":7,"utc":true},{"year":2021,"month":4,"date":9,"utc":true},{"year":2021,"month":4,"date":12,"utc":true},{"year":2021,"month":4,"date":14,"utc":true},{"year":2021,"month":4,"date":16,"utc":true},{"year":2021,"month":4,"date":19,"utc":true}],
                    "labels": false, "ticks": false, "domain": false, "grid": true, "title": null
                  }
                },
                "y": {
                  "field": "v", "type": "quantitative",
                  "scale": {"domain": [0, 673], "nice": false, "zero": true},
                  "axis": {"orient": "left", "title": "Vol (20)", "labels": false, "ticks": false, "domain": false, "grid": false, "titleAngle": 0, "titleAlign": "left", "titleBaseline": "middle", "titleX": 5, "titleY": 38, "titleFont": "Liberation Sans Narrow, Roboto"}
                },
                "y2": {"datum": 0},
                "color": {"condition": {"test": "datum.c >= datum.o", "value": "#26a69a"}, "value": "#ef5350"}
              }
            },
            {
              "transform": [{"window": [{"op": "mean", "field": "v", "as": "vma"}], "frame": [-19, 0], "sort": [{"field": "t"}]}],
              "mark": {"type": "line", "color": "#ef8a4b", "strokeWidth": 1.5},
              "encoding": {
                "x": {"field": "t", "type": "temporal"},
                "y": {"field": "vma", "type": "quantitative"}
              }
            }
          ]
        },
        {
          "layer": [
            {
              "data": {"name": "levels"},
              "mark": {"type": "rule", "strokeDash": [2, 2], "strokeWidth": 1},
              "encoding": {
                "x": {"field": "from", "type": "temporal"},
                "x2": {"datum": {"year":2021,"month":4,"date":19,"hours":15,"minutes":33,"utc":true}},
                "y": {
                  "field": "p", "type": "quantitative",
                  "scale": {"type": "log", "domain": [0.059175, 0.1636], "nice": false, "zero": false},
                  "axis": {
                    "orient": "right",
                    "values": [0.16, 0.15, 0.14, 0.13, 0.12, 0.11, 0.1, 0.094, 0.088, 0.082, 0.078, 0.074, 0.07, 0.066, 0.0625],
                    "format": ".6f", "tickSize": 5, "labelPadding": 5, "labelOverlap": false,
                    "title": "VeChain / TetherUS, 4h, BINANCE", "titleAngle": 0, "titleAlign": "left", "titleBaseline": "middle",
                    "titleX": -1838, "titleY": 18, "titleFontWeight": "bold", "titleFont": "Liberation Sans Narrow, Roboto"
                  }
                },
                "color": {"condition": {"test": "datum.kind == 'res'", "value": "#ff0000"}, "value": "#00ff00"}
              }
            },
            {
              "data": {"name": "fib"},
              "mark": {"type": "rule", "strokeWidth": 1},
              "encoding": {
                "x": {"datum": {"year":2021,"month":3,"date":25,"hours":12,"utc":true}, "type": "temporal"},
                "x2": {"datum": {"year":2021,"month":4,"date":19,"hours":15,"minutes":33,"utc":true}},
                "y": {"field": "p", "type": "quantitative", "scale": {"type": "log", "domain": [0.059175, 0.1636], "nice": false, "zero": false}},
                "color": {"condition": {"test": "datum.major", "value": "#ffffff"}, "value": "#9598a1"}
              }
            },
            {
              "data": {"name": "fib"},
              "transform": [{"filter": "!datum.major"}],
              "mark": {"type": "text", "align": "right", "baseline": "bottom", "dx": -9, "dy": -2, "fontSize": 12, "color": "#9598a1", "clip": true},
              "encoding": {
                "x": {"datum": {"year":2021,"month":4,"date":19,"hours":15,"minutes":33,"utc":true}, "type": "temporal"},
                "y": {"field": "p", "type": "quantitative", "scale": {"type": "log", "domain": [0.059175, 0.1636], "nice": false, "zero": false}},
                "text": {"field": "label"}
              }
            },
            {
              "data": {"name": "fib"},
              "transform": [{"filter": "datum.major"}],
              "mark": {"type": "text", "align": "right", "baseline": "bottom", "dx": -9, "dy": -2, "fontSize": 12, "fontWeight": "bold", "color": "#ffffff"},
              "encoding": {
                "x": {"datum": {"year":2021,"month":4,"date":19,"hours":15,"minutes":33,"utc":true}, "type": "temporal"},
                "y": {"field": "p", "type": "quantitative", "scale": {"type": "log", "domain": [0.059175, 0.1636], "nice": false, "zero": false}},
                "text": {"field": "label"}
              }
            },
            {
              "mark": {"type": "rule", "strokeWidth": 1},
              "encoding": {
                "x": {"field": "t", "type": "temporal"},
                "y": {"field": "l", "type": "quantitative", "scale": {"type": "log", "domain": [0.059175, 0.1636], "nice": false, "zero": false}},
                "y2": {"field": "h"},
                "color": {"condition": {"test": "datum.c >= datum.o", "value": "#26a69a"}, "value": "#ef5350"}
              }
            },
            {
              "mark": {"type": "bar", "size": 5},
              "encoding": {
                "x": {"field": "t", "type": "temporal"},
                "y": {"field": "o", "type": "quantitative", "scale": {"type": "log", "domain": [0.059175, 0.1636], "nice": false, "zero": false}},
                "y2": {"field": "c"},
                "color": {"condition": {"test": "datum.c >= datum.o", "value": "#26a69a"}, "value": "#ef5350"}
              }
            },
            {
              "data": {"name": "tags"},
              "mark": {"type": "point", "shape": "M0,-0.243L2,-0.243L2,0.243L0,0.243Z", "size": 5084, "filled": true, "opacity": 1},
              "encoding": {
                "x": {"datum": {"year":2021,"month":4,"date":19,"hours":15,"minutes":33,"utc":true}, "type": "temporal"},
                "y": {"field": "p", "type": "quantitative", "scale": {"type": "log", "domain": [0.059175, 0.1636], "nice": false, "zero": false}},
                "color": {"condition": [{"test": "datum.kind == 'last'", "value": "#ef5350"}, {"test": "datum.kind == 'res'", "value": "#ff0000"}], "value": "#14f014"}
              }
            },
            {
              "data": {"name": "tags"},
              "mark": {"type": "text", "dx": 35.6, "align": "center", "baseline": "middle", "fontSize": 13},
              "encoding": {
                "x": {"datum": {"year":2021,"month":4,"date":19,"hours":15,"minutes":33,"utc":true}, "type": "temporal"},
                "y": {"field": "p", "type": "quantitative", "scale": {"type": "log", "domain": [0.059175, 0.1636], "nice": false, "zero": false}},
                "text": {"field": "p", "type": "quantitative", "format": ".6f"},
                "color": {"condition": {"test": "datum.kind == 'sup'", "value": "#131722"}, "value": "#ffffff"}
              }
            }
          ]
        }
      ],
      "resolve": {"scale": {"y": "independent"}}
    },
    {
      "width": 1843,
      "height": 136,
      "mark": {"type": "line", "color": "#8a8a16", "strokeWidth": 1.5},
      "encoding": {
        "x": {
          "field": "t", "type": "temporal",
          "scale": {"padding": 0, "domain": [{"year":2021,"month":3,"date":13,"hours":13,"minutes":35,"utc":true},{"year":2021,"month":4,"date":19,"hours":15,"minutes":33,"utc":true}]},
          "axis": {
            "values": [{"year":2021,"month":3,"date":15,"utc":true},{"year":2021,"month":3,"date":17,"utc":true},{"year":2021,"month":3,"date":19,"utc":true},{"year":2021,"month":3,"date":22,"utc":true},{"year":2021,"month":3,"date":24,"utc":true},{"year":2021,"month":3,"date":26,"utc":true},{"year":2021,"month":3,"date":29,"utc":true},{"year":2021,"month":4,"date":1,"utc":true},{"year":2021,"month":4,"date":3,"utc":true},{"year":2021,"month":4,"date":5,"utc":true},{"year":2021,"month":4,"date":7,"utc":true},{"year":2021,"month":4,"date":9,"utc":true},{"year":2021,"month":4,"date":12,"utc":true},{"year":2021,"month":4,"date":14,"utc":true},{"year":2021,"month":4,"date":16,"utc":true},{"year":2021,"month":4,"date":19,"utc":true}],
            "labels": false, "ticks": false, "domain": false, "grid": true,
            "title": "TradingView", "titleX": 30, "titleY": 190, "titleAlign": "left", "titleBaseline": "middle",
            "titleFontSize": 14, "titleFontWeight": "bold", "titleColor": "#d1d4dc"
          }
        },
        "y": {
          "field": "ad", "type": "quantitative",
          "scale": {"domain": [41.85, 48.03], "nice": false, "zero": false},
          "axis": {
            "orient": "right", "values": [42, 44, 46, 48], "labelExpr": "datum.value + 'B'",
            "tickSize": 5, "labelPadding": 5, "labelOverlap": false,
            "title": "Accum/Dist", "titleAngle": 0, "titleAlign": "left", "titleBaseline": "middle",
            "titleX": -1834, "titleY": 17, "titleFont": "Liberation Sans Narrow, Roboto"
          }
        }
      }
    },
    {
      "width": 1843,
      "height": 139,
      "encoding": {
        "x": {
          "field": "t", "type": "temporal",
          "scale": {"padding": 0, "domain": [{"year":2021,"month":3,"date":13,"hours":13,"minutes":35,"utc":true},{"year":2021,"month":4,"date":19,"hours":15,"minutes":33,"utc":true}]},
          "axis": {
            "values": [{"year":2021,"month":3,"date":15,"utc":true},{"year":2021,"month":3,"date":17,"utc":true},{"year":2021,"month":3,"date":19,"utc":true},{"year":2021,"month":3,"date":22,"utc":true},{"year":2021,"month":3,"date":24,"utc":true},{"year":2021,"month":3,"date":26,"utc":true},{"year":2021,"month":3,"date":29,"utc":true},{"year":2021,"month":4,"date":1,"utc":true},{"year":2021,"month":4,"date":3,"utc":true},{"year":2021,"month":4,"date":5,"utc":true},{"year":2021,"month":4,"date":7,"utc":true},{"year":2021,"month":4,"date":9,"utc":true},{"year":2021,"month":4,"date":12,"utc":true},{"year":2021,"month":4,"date":14,"utc":true},{"year":2021,"month":4,"date":16,"utc":true},{"year":2021,"month":4,"date":19,"utc":true}],
            "labelExpr": "utcdate(datum.value) == 1 ? utcFormat(datum.value, '%b') : utcFormat(datum.value, '%-d')",
            "labelFlush": false, "labelOverlap": false, "grid": true, "ticks": true, "tickSize": 4, "domain": false, "labelPadding": 4,
            "title": "arzinja.info", "titleX": 1925, "titleY": 64, "titleAlign": "right", "titleBaseline": "alphabetic",
            "titleFont": "DejaVu Sans", "titleFontSize": 30, "titleFontWeight": "bold", "titleColor": "#000000"
          }
        }
      },
      "layer": [
        {
          "mark": {"type": "bar", "size": 7},
          "encoding": {
            "y": {
              "field": "hv", "type": "quantitative",
              "scale": {"domain": [-0.00296, 0.01137], "nice": false, "zero": false},
              "axis": {
                "orient": "right", "values": [0, 0.005, 0.01], "format": ".6f",
                "tickSize": 5, "labelPadding": 5, "labelOverlap": false,
                "title": "MACD (12, 26, close, 9)", "titleAngle": 0, "titleAlign": "left", "titleBaseline": "middle",
                "titleX": -1834, "titleY": 20, "titleFont": "Liberation Sans Narrow, Roboto"
              }
            },
            "y2": {"datum": 0},
            "color": {
              "condition": [
                {"test": "datum.hv >= 0 && datum.hd == 'rise'", "value": "#26a69a"},
                {"test": "datum.hv >= 0", "value": "#b2dfdb"},
                {"test": "datum.hd == 'fall'", "value": "#ef5350"}
              ],
              "value": "#ffcdd2"
            }
          }
        },
        {
          "mark": {"type": "line", "color": "#2196f3", "strokeWidth": 1.5},
          "encoding": {"y": {"field": "m", "type": "quantitative"}}
        },
        {
          "mark": {"type": "line", "color": "#ff6d00", "strokeWidth": 1.5},
          "encoding": {"y": {"field": "s", "type": "quantitative"}}
        }
      ]
    }
  ],
  "config": {
    "font": "Roboto",
    "view": {"stroke": "#2a2e39", "fill": "#161a25"},
    "axis": {
      "gridColor": "#262a35", "gridOpacity": 1, "domainColor": "#363a45", "tickColor": "#363a45",
      "labelColor": "#b2b5be", "labelFont": "Roboto", "labelFontSize": 13,
      "titleColor": "#b2b5be", "titleFont": "Roboto", "titleFontSize": 13, "titleFontWeight": "normal",
      "minExtent": 0
    }
  }
}
